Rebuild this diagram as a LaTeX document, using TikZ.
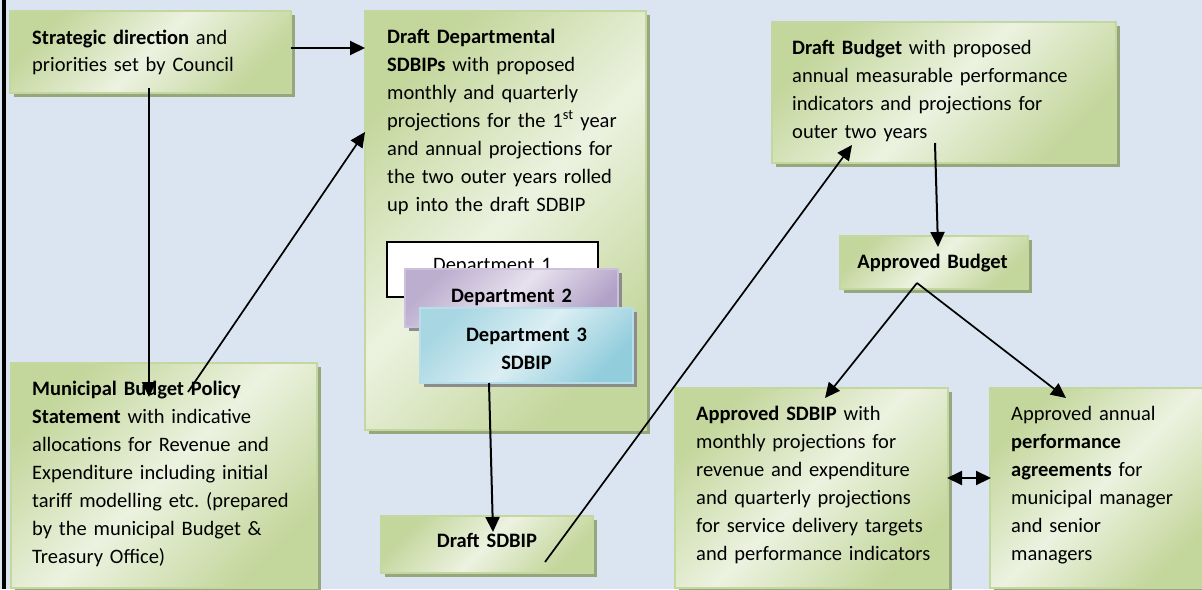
\documentclass[tikz,border=0pt]{standalone}
\usepackage{fontspec}
\setmainfont{Carlito}
\frenchspacing
\usetikzlibrary{fit,shadows,arrows.meta,calc}
\definecolor{bg}{RGB}{219,229,241}
\definecolor{gdark}{RGB}{195,214,155}
\definecolor{glight}{RGB}{236,242,224}
\definecolor{gborder}{RGB}{196,215,158}
\definecolor{gshadow}{RGB}{150,166,125}
\definecolor{pdark}{RGB}{178,161,199}
\definecolor{plight}{RGB}{230,225,237}
\definecolor{pborder}{RGB}{204,193,218}
\definecolor{cdark}{RGB}{146,205,220}
\definecolor{clight}{RGB}{219,238,243}
\definecolor{cborder}{RGB}{183,222,232}
\definecolor{dshadow}{RGB}{140,140,140}
\tikzset{
  gbox/.style={draw=gborder, line width=1.5pt, left color=gdark, right color=gdark, middle color=glight, shading angle=45,
    general shadow={fill=gshadow, shadow xshift=4pt, shadow yshift=-4pt}, inner sep=0pt, outer sep=0pt},
  pbox/.style={draw=pborder, line width=1.5pt, left color=pdark!80!plight, right color=pdark, middle color=plight, shading angle=45,
    general shadow={fill=dshadow, shadow xshift=4pt, shadow yshift=-4pt}, inner sep=0pt, outer sep=0pt},
  cbox/.style={draw=cborder, line width=1.5pt, left color=cdark!70!clight, right color=cdark, middle color=clight, shading angle=45,
    general shadow={fill=dshadow, shadow xshift=4pt, shadow yshift=-4pt}, inner sep=0pt, outer sep=0pt},
  wbox/.style={draw=black, line width=1.3pt, fill=white, inner sep=0pt, outer sep=0pt},
  txt/.style={text width=340pt, align=left, inner sep=0pt, font=\fontsize{20.5}{28}\selectfont, anchor=base west},
  ctxt/.style={text width=240pt, align=center, inner sep=0pt, font=\fontsize{20.5}{28}\selectfont, anchor=base},
  arr/.style={line width=2pt, -{Triangle[length=15pt,width=14pt]}},
  thinarr/.style={line width=1.7pt, -{Triangle[length=15pt,width=14pt]}},
  dblarr/.style={line width=2pt, {Triangle[length=15pt,width=14pt]}-{Triangle[length=15pt,width=14pt]}}
}
\begin{document}
\begin{tikzpicture}[x=1pt,y=-1pt]
\useasboundingbox (0,0) rectangle (1202,589);
\fill[bg] (0,0) rectangle (1202,589);
\fill[black] (1.5,0) rectangle (6,589);

% boxes
\node[gbox, fit={(10,11) (291,93)}] (strat) {};
\node[gbox, fit={(365,11) (646,430)}] (dept) {};
\node[gbox, fit={(11,363) (317,588)}] (muni) {};
\node[gbox, fit={(381,516) (593,573)}] (dsdbip) {};
\node[gbox, fit={(772,22) (1116,163)}] (dbudget) {};
\node[gbox, fit={(840,236) (1028,289)}] (abudget) {};
\node[gbox, fit={(675,388) (948,588)}] (asdbip) {};
\node[gbox, fit={(990,388) (1210,588)}] (perf) {};

% texts
\node[txt] (tstrat) at (32,44) {\textbf{Strategic direction} and\\priorities set by Council};
\node[txt] (tdept) at (387,43) {\textbf{Draft Departmental}\\\textbf{SDBIPs} with proposed\\monthly and quarterly\\projections for the 1\textsuperscript{st} year\\and annual projections for\\the two outer years rolled\\up into the draft SDBIP};
\node[txt] (tmuni) at (32,395) {\textbf{Municipal Budget Policy}\\\textbf{Statement} with indicative\\allocations for Revenue and\\Expenditure including initial\\tariff modelling etc. (prepared\\by the municipal Budget \&\\Treasury Office)};
\node[txt] (tdbudget) at (792,54) {\textbf{Draft Budget} with proposed\\annual measurable performance\\indicators and projections for\\outer two years};
\node[ctxt] (tabudget) at (932.5,268) {\textbf{Approved Budget}};
\node[ctxt] (tdsdbip) at (487,547) {\textbf{Draft SDBIP}};
\node[txt] (tasdbip) at (696,420) {\textbf{Approved SDBIP} with\\monthly projections for\\revenue and expenditure\\and quarterly projections\\for service delivery targets\\and performance indicators};
\node[txt] (tperf) at (1011,420) {Approved annual\\\textbf{performance}\\\textbf{agreements} for\\municipal manager\\and senior\\managers};

% departments
\node[wbox, fit={(387,242) (598,297)}] (d1) {};
\node[ctxt] (td1) at (492.5,271) {Department 1};
\node[pbox, fit={(405,269) (618,327)}] (d2) {};
\node[ctxt] (td2) at (511.5,302) {\textbf{Department 2}};
\node[cbox, fit={(420,308) (633,383)}] (d3) {};
\node[ctxt] (td3) at (526.5,341) {\textbf{Department 3}\\\textbf{SDBIP}};

% connector end points
\coordinate (s1) at (291,48);
\coordinate (e1) at (365,48);
\coordinate (s2) at (149,88);
\coordinate (e2) at (149,397);
\coordinate (s3) at (188,392);
\coordinate (e3) at (365,132);
\coordinate (s4) at (489,383);
\coordinate (e4) at (493,532);
\coordinate (s5) at (545,562);
\coordinate (e5) at (852,145);
\coordinate (s6) at (935,143);
\coordinate (e6) at (938,247);
\coordinate (s7) at (917,283);
\coordinate (e7) at (825,398);
\coordinate (e8) at (1066,398);
\coordinate (s9) at (947,478);
\coordinate (e9) at (991,478);

% connectors
\draw[arr] (s1) -- (e1);
\draw[arr] (s2) -- (e2);
\draw[thinarr] (s3) -- (e3);
\draw[arr] (s4) -- (e4);
\draw[thinarr] (s5) -- (e5);
\draw[arr] (s6) -- (e6);
\draw[thinarr] (s7) -- (e7);
\draw[thinarr] (s7) -- (e8);
\draw[dblarr] (s9) -- (e9);
\end{tikzpicture}
\end{document}
